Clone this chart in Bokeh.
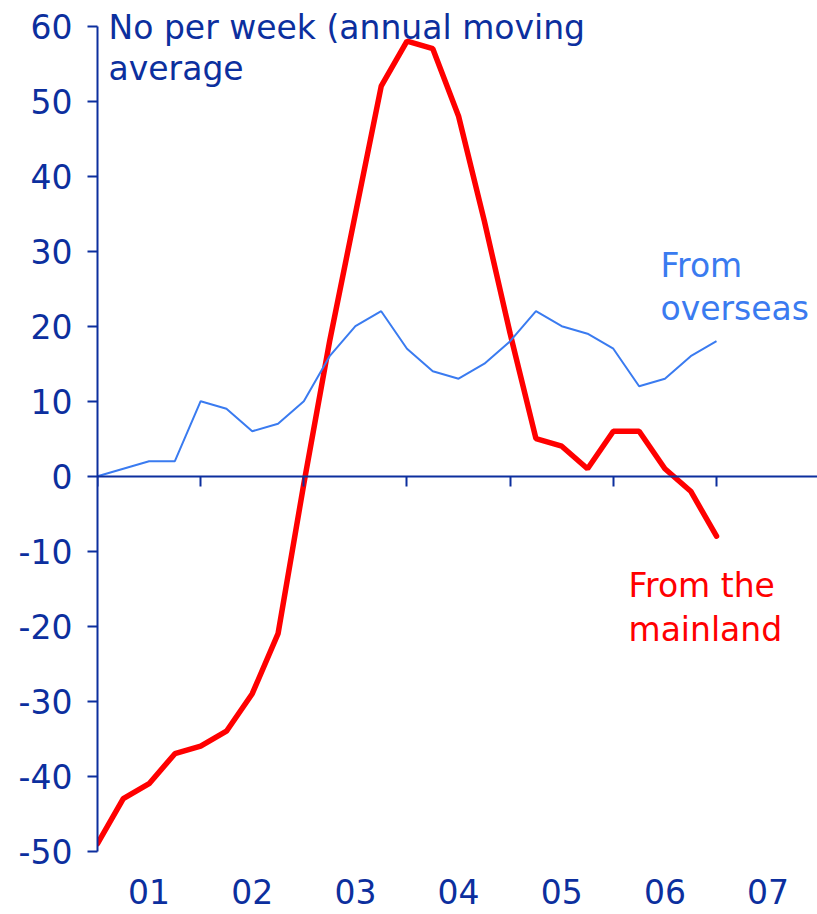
from bokeh.plotting import figure
from bokeh.models import LinearAxis, FixedTicker, Label, Range1d, ColumnDataSource
from bokeh.embed import file_html
from bokeh.resources import INLINE

# ---- data ----
quarter_pos = [2001.00, 2001.25, 2001.50, 2001.75,
               2002.00, 2002.25, 2002.50, 2002.75,
               2003.00, 2003.25, 2003.50, 2003.75,
               2004.00, 2004.25, 2004.50, 2004.75,
               2005.00, 2005.25, 2005.50, 2005.75,
               2006.00, 2006.25, 2006.50, 2006.75,
               2007.00]
from_mainland = [-49, -43, -41, -37, -36, -34, -29, -21,
                 -1, 18, 35, 52, 58, 57, 48, 34,
                 19, 5, 4, 1, 6, 6, 1, -2, -8]
from_overseas = [0, 1, 2, 2, 10, 9, 6, 7,
                 10, 16, 20, 22, 17, 14, 13, 15,
                 18, 22, 20, 19, 17, 12, 13, 16, 18]
year_starts = [2001, 2002, 2003, 2004, 2005, 2006, 2007]
year_mids = [2001.5, 2002.5, 2003.5, 2004.5, 2005.5, 2006.5, 2007.5]
year_labels = ["01", "02", "03", "04", "05", "06", "07"]
y_ticks = [-50, -40, -30, -20, -10, 0, 10, 20, 30, 40, 50, 60]
y_tick_labels = ["-50", "-40", "-30", "-20", "-10", "0", "10", "20", "30", "40", "50", "60"]
title_text = "No per week (annual moving\naverage"
overseas_text = "From\noverseas"
mainland_text = "From the\nmainland"

NAVY = "#0c2f9e"
BLUE = "#3a7bf0"
RED = "#ff0000"
FONT = "DejaVu Sans"
FS = "33px"

src = ColumnDataSource(dict(x=quarter_pos, mainland=from_mainland, overseas=from_overseas))

p = figure(width=817, height=914,
           x_range=Range1d(2001, 2007.979), y_range=Range1d(-58.44, 63.43),
           output_backend="svg", toolbar_location=None,
           min_border_left=97, min_border_right=0, min_border_top=0, min_border_bottom=0,
           x_axis_type=None)
p.outline_line_color = None
p.grid.visible = False
p.background_fill_color = "white"
p.border_fill_color = "white"

# y axis (line only between -50 and 60)
ya = p.yaxis[0]
ya.bounds = (-50, 60)
ya.ticker = FixedTicker(ticks=y_ticks)
ya.major_label_overrides = dict(zip(y_ticks, y_tick_labels))
ya.axis_line_color = NAVY
ya.axis_line_width = 2
ya.major_tick_line_color = NAVY
ya.major_tick_line_width = 2
ya.major_tick_out = 10
ya.major_tick_in = 0
ya.minor_tick_line_color = None
ya.major_label_standoff = 15
ya.major_label_text_font = FONT
ya.major_label_text_font_size = FS
ya.major_label_text_color = NAVY

# zero line axis with year-boundary ticks
zero_axis = LinearAxis(fixed_location=0, ticker=FixedTicker(ticks=year_starts),
                       axis_line_color=NAVY, axis_line_width=2,
                       major_tick_line_color=NAVY, major_tick_line_width=2,
                       major_tick_out=10, major_tick_in=0,
                       minor_tick_line_color=None,
                       major_label_text_color=None)
p.add_layout(zero_axis, "below")

# year label axis under the -50 level
label_axis = LinearAxis(fixed_location=-50, ticker=FixedTicker(ticks=year_mids),
                        major_label_overrides=dict(zip(year_mids, year_labels)),
                        axis_line_color=None, major_tick_line_color=None,
                        minor_tick_line_color=None, major_tick_out=0, major_tick_in=0,
                        major_label_standoff=28,
                        major_label_text_font=FONT, major_label_text_font_size=FS,
                        major_label_text_color=NAVY)
p.add_layout(label_axis, "below")

p.line("x", "mainland", source=src, line_color=RED, line_width=5.5, line_cap="round")
p.line("x", "overseas", source=src, line_color=BLUE, line_width=2)

p.add_layout(Label(x=2001.107, y=62.43, text=title_text, text_font=FONT, text_font_size=FS,
                   text_color=NAVY, text_baseline="top", text_align="left", text_line_height=1.04))
p.add_layout(Label(x=2006.457, y=30.69, text=overseas_text, text_font=FONT, text_font_size=FS,
                   text_color=BLUE, text_baseline="top", text_align="left", text_line_height=1.09))
p.add_layout(Label(x=2006.147, y=-11.97, text=mainland_text, text_font=FONT, text_font_size=FS,
                   text_color=RED, text_baseline="top", text_align="left", text_line_height=1.12))

open("out.html", "w").write(file_html(p, INLINE))
